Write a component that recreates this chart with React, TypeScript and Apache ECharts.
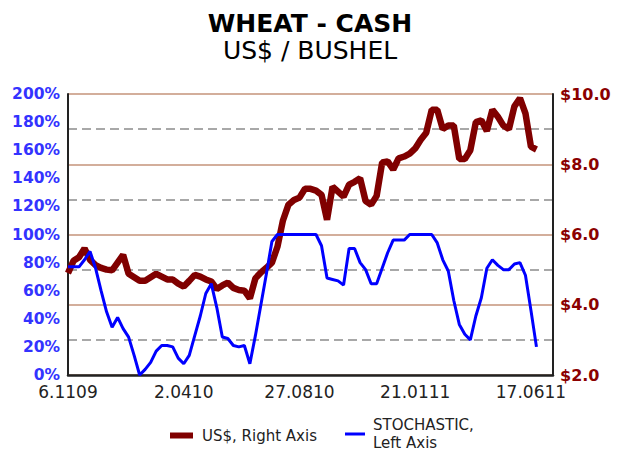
import React, { useEffect, useRef } from "react";
import * as echarts from "echarts";

// Weekly dates from 6 Nov 2009; axis extends a few weeks past the last data point
const START = { y: 2009, m: 10, d: 6 };
const WEEKS_ON_AXIS = 89;
const categories: string[] = [];
for (let i = 0; i < WEEKS_ON_AXIS; i++) {
  const dt = new Date(START.y, START.m, START.d + 7 * i);
  const mm = String(dt.getMonth() + 1).padStart(2, "0");
  const yy = String(dt.getFullYear() % 100).padStart(2, "0");
  categories.push(`${dt.getDate()}.${mm}${yy}`);
}

const tickLabels = ["6.1109", "2.0410", "27.0810", "21.0111", "17.0611"];

// US$ / bushel (right axis)
const price = [
  4.9, 5.25, 5.35, 5.6, 5.28, 5.13, 5.05, 5.0, 4.98, 5.2,
  5.42, 4.88, 4.78, 4.68, 4.68, 4.78, 4.88, 4.8, 4.72, 4.72,
  4.6, 4.52, 4.68, 4.85, 4.8, 4.72, 4.66, 4.45, 4.55, 4.63,
  4.48, 4.42, 4.4, 4.18, 4.75, 4.92, 5.05, 5.2, 5.65, 6.4,
  6.85, 6.98, 7.05, 7.3, 7.3, 7.25, 7.13, 6.42, 7.36, 7.22,
  7.08, 7.42, 7.5, 7.6, 6.95, 6.85, 7.1, 8.05, 8.08, 7.85,
  8.17, 8.22, 8.3, 8.45, 8.7, 8.9, 9.55, 9.55, 9.0, 9.1,
  9.1, 8.15, 8.15, 8.4, 9.2, 9.25, 8.95, 9.55, 9.35, 9.1,
  9.0, 9.65, 9.88, 9.45, 8.5, 8.42,
];

// Stochastic % (left axis)
const stochastic = [
  77, 77, 77, 82, 88, 76, 60, 45, 34, 41,
  33, 27, 14, 0, 4, 9, 17, 21, 21, 20,
  12, 8, 14, 28, 42, 58, 65, 48, 27, 26,
  21, 20, 21, 8, 28, 50, 72, 95, 100, 100,
  100, 100, 100, 100, 100, 100, 92, 69, 68, 67,
  64, 90, 90, 80, 75, 65, 65, 76, 87, 96,
  96, 96, 100, 100, 100, 100, 100, 94, 82, 74,
  53, 36, 29, 25, 42, 55, 76, 82, 78, 75,
  75, 79, 80, 71, 46, 20,
];

const PRICE_NAME = "US$, Right Axis";
const STOCH_NAME = "STOCHASTIC,\nLeft Axis";
const FONT = "DejaVu Sans";

export default function App() {
  const ref = useRef<HTMLDivElement>(null);
  useEffect(() => {
    if (!ref.current) return;
    const chart = echarts.init(ref.current, null, { renderer: "svg" });
    chart.setOption({
      animation: false,
      backgroundColor: "#ffffff",
      title: [
        {
          text: "WHEAT - CASH",
          left: "center",
          top: 6,
          textStyle: { fontFamily: FONT, fontSize: 25, lineHeight: 25, fontWeight: "bold", color: "#000" },
        },
        {
          text: "US$ / BUSHEL",
          left: "center",
          top: 33,
          textStyle: { fontFamily: FONT, fontSize: 25, lineHeight: 25, fontWeight: "normal", color: "#000" },
        },
      ],
      legend: [
        {
          data: [{ name: PRICE_NAME, icon: "rect" }],
          left: 170,
          top: 428,
          padding: 0,
          itemWidth: 23,
          itemHeight: 6,
          textStyle: { fontFamily: FONT, fontSize: 15, color: "#222", padding: [0, 0, 0, 4] },
        },
        {
          data: [{ name: STOCH_NAME, icon: "path://M0,0H20V3H0Z" }],
          left: 345,
          top: 416,
          padding: 0,
          itemWidth: 20,
          itemHeight: 3,
          textStyle: { fontFamily: FONT, fontSize: 15, color: "#222", lineHeight: 18, padding: [0, 0, 0, 3] },
        },
      ],
      grid: { left: 68, right: 67, top: 94, bottom: 90, containLabel: false },
      xAxis: {
        type: "category",
        data: categories,
        boundaryGap: false,
        axisLine: { lineStyle: { color: "#222", width: 2.5 } },
        axisTick: { show: false },
        splitLine: { show: false },
        axisLabel: {
          interval: 20,
          color: "#222",
          fontFamily: FONT,
          fontSize: 17,
          lineHeight: 14,
          margin: 10,
          formatter: (v: string) => (tickLabels.includes(v) ? v : v),
        },
      },
      yAxis: [
        {
          type: "value",
          position: "left",
          min: 0,
          max: 200,
          interval: 20,
          axisLine: { show: true, lineStyle: { color: "#222", width: 2 } },
          axisTick: { show: false },
          splitLine: { show: false },
          axisLabel: {
            formatter: "{value}%",
            color: "#3333ff",
            fontWeight: "bold",
            fontFamily: FONT,
            fontSize: 15.5,
            lineHeight: 13,
            margin: 8,
          },
        },
        {
          type: "value",
          position: "right",
          min: 2,
          max: 10,
          interval: 2,
          axisLine: { show: true, lineStyle: { color: "#222", width: 2 } },
          axisTick: { show: false },
          splitLine: { show: true, lineStyle: { color: "#c4937a", width: 1.5 } },
          axisLabel: {
            formatter: (v: number) => "$" + v.toFixed(1),
            color: "#8b0000",
            fontWeight: "bold",
            fontFamily: FONT,
            fontSize: 16,
            lineHeight: 13,
            margin: 7,
          },
        },
        {
          type: "value",
          position: "right",
          min: 2,
          max: 10,
          interval: 1,
          axisLine: { show: false },
          axisTick: { show: false },
          axisLabel: { show: false },
          splitLine: {
            show: true,
            lineStyle: { color: ["transparent", "#8c8c8c"], type: [9, 5], width: 1.5 },
          },
        },
      ],
      series: [
        {
          name: PRICE_NAME,
          type: "line",
          yAxisIndex: 1,
          data: price,
          symbol: "none",
          lineStyle: { color: "#800000", width: 6.5 },
          itemStyle: { color: "#800000" },
        },
        {
          name: STOCH_NAME,
          type: "line",
          yAxisIndex: 0,
          data: stochastic,
          symbol: "none",
          lineStyle: { color: "#0000ff", width: 3 },
          itemStyle: { color: "#0000ff" },
        },
      ],
    });
    return () => chart.dispose();
  }, []);
  return (
    <div
      ref={ref}
      style={{ position: "fixed", left: 0, top: 0, width: 620, height: 465, background: "#fff" }}
    />
  );
}
